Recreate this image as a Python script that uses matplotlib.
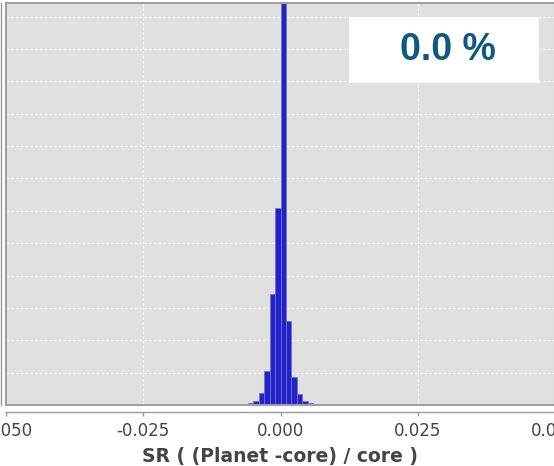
import matplotlib
matplotlib.use("Agg")
import matplotlib.pyplot as plt
from matplotlib.patches import Rectangle

# ---- data ----
bin_left = [-0.012, -0.011, -0.010, -0.009, -0.008, -0.007, -0.006, -0.005,
            -0.004, -0.003, -0.002, -0.001, 0.000, 0.001, 0.002, 0.003,
            0.004, 0.005, 0.006, 0.007, 0.008, 0.009, 0.010, 0.011]
counts = [5, 8, 12, 18, 28, 45, 70, 120,
          370, 1050, 3440, 6100, 20000, 2600, 870, 340,
          120, 70, 45, 28, 18, 12, 8, 5]
bin_width = 0.001
x_ticks = [-0.050, -0.025, 0.000, 0.025, 0.050]
x_tick_labels = ["-0.050", "-0.025", "0.000", "0.025", "0.050"]
x_label = "SR ( (Planet -core) / core )"
badge_text = "0.0 %"

W, H = 554, 466
fig = plt.figure(figsize=(W / 100, H / 100), dpi=100)
ax = fig.add_axes([6 / W, 61 / H, 549 / W, 402 / H])
ax.set_facecolor("#e0e0e0")

ax.bar(bin_left, counts, width=bin_width, align="edge",
       color="#2222c8", edgecolor="#7070dc", linewidth=0.6, zorder=3)

ax.set_xlim(-0.05, 0.05)
ax.set_ylim(0, 12420)
ax.set_yticks(range(0, 12001, 1000))
ax.set_xticks(x_ticks)
ax.set_xticklabels(x_tick_labels)
ax.grid(True, color="#f4f4f4", linestyle=(0, (2.2, 1.6)), linewidth=0.9, zorder=1)

for s in ["top", "right"]:
    ax.spines[s].set_visible(False)
ax.spines["bottom"].set_position(("outward", 5.3))
ax.spines["left"].set_position(("outward", 3.6))
for s in ["bottom", "left"]:
    ax.spines[s].set_color("#999999")
    ax.spines[s].set_linewidth(1.0)

ax.tick_params(axis="y", length=0, labelleft=False)
ax.tick_params(axis="x", length=3, width=1, color="#999999", pad=4,
               labelsize=12, labelcolor="#444444")

ax.set_xlabel(x_label, fontsize=13.5, fontweight="bold", color="#444444", labelpad=5)

# plot-area frame
ax.add_patch(Rectangle((0, 0), 1, 1, transform=ax.transAxes, fill=False,
                       edgecolor="#a0a0a0", linewidth=1.5, clip_on=False, zorder=5))

# badge
ax.add_patch(Rectangle((0.625, 0.800), 0.346, 0.165, transform=ax.transAxes,
                       facecolor="white", edgecolor="none", zorder=6))
ax.text(0.805, 0.883, badge_text, transform=ax.transAxes, ha="center", va="center",
        fontsize=27, fontweight="bold", family="Liberation Sans",
        color="#0d5a80", zorder=7)

fig.savefig("out.png", dpi=100)
